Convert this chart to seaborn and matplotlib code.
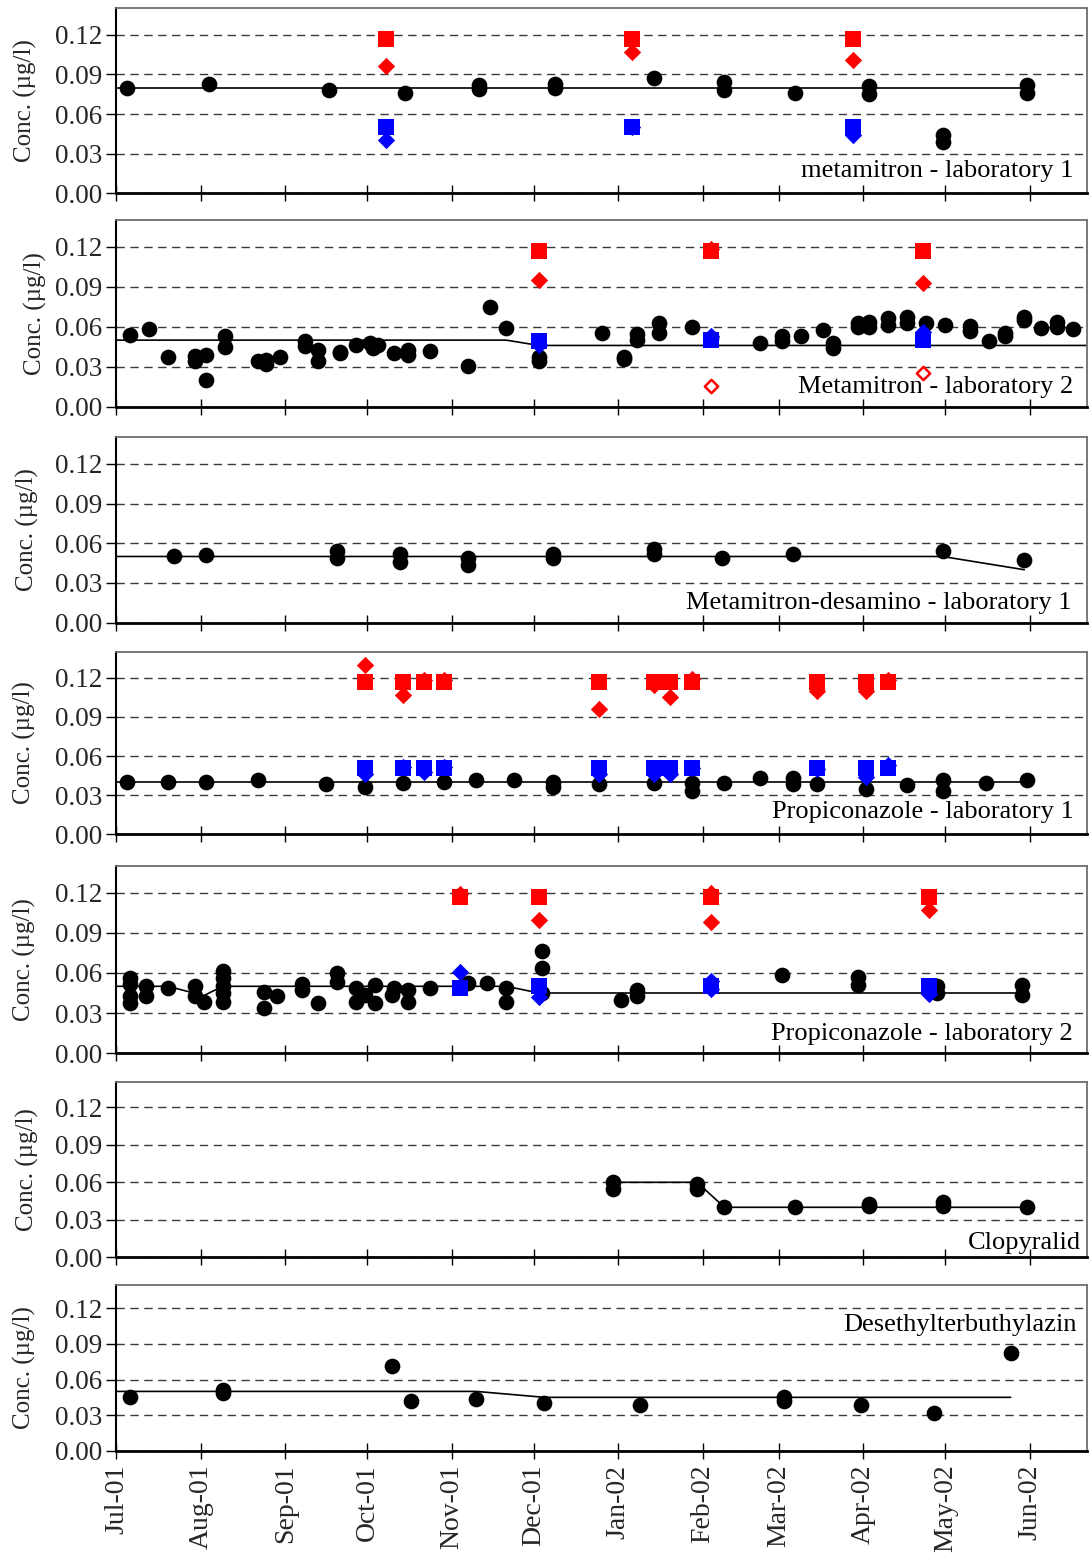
import numpy as np
import pandas as pd
import matplotlib
matplotlib.use("Agg")
import matplotlib.pyplot as plt
import matplotlib.dates as mdates
import matplotlib.transforms as mtransforms
from matplotlib.ticker import FormatStrFormatter
import seaborn as sns

# ---------------- data ----------------
# Panel 1: metamitron - laboratory 1
p1_black_dates = ['2001-07-05', '2001-08-04', '2001-09-17', '2001-10-15', '2001-11-11', '2001-11-11',
                  '2001-12-09', '2001-12-09', '2002-01-14', '2002-02-09', '2002-02-09', '2002-03-07',
                  '2002-04-03', '2002-04-03', '2002-04-30', '2002-04-30', '2002-05-31', '2002-05-31']
p1_black_vals = [0.080, 0.083, 0.078, 0.076, 0.082, 0.079, 0.083, 0.080, 0.087, 0.084, 0.078, 0.076,
                 0.081, 0.075, 0.044, 0.039, 0.082, 0.076]
p1_line_dates = ['2001-07-01', '2002-05-31']
p1_line_vals = [0.08, 0.08]
p1_sq_dates = ['2001-10-08', '2002-01-06', '2002-03-28']
p1_red_sq = [0.117, 0.117, 0.117]
p1_blue_sq = [0.050, 0.050, 0.050]
p1_dia_dates = ['2001-10-08', '2002-01-06', '2002-03-28']
p1_red_dia = [0.096, 0.107, 0.101]
p1_blue_dia = [0.040, 0.050, 0.044]
p1_open_dates = []
p1_open_vals = []

# Panel 2: Metamitron - laboratory 2
p2_black_dates = ['2001-07-06', '2001-07-13', '2001-07-20', '2001-07-30', '2001-07-30', '2001-08-03',
                  '2001-08-03', '2001-08-10', '2001-08-10', '2001-08-22', '2001-08-25', '2001-08-25',
                  '2001-08-30', '2001-09-08', '2001-09-08', '2001-09-13', '2001-09-13', '2001-09-21',
                  '2001-09-21', '2001-09-27', '2001-10-02', '2001-10-03', '2001-10-05', '2001-10-11',
                  '2001-10-16', '2001-10-16', '2001-10-24', '2001-11-07', '2001-11-15', '2001-11-21',
                  '2001-12-03', '2001-12-03', '2001-12-26', '2002-01-03', '2002-01-03', '2002-01-08',
                  '2002-01-08', '2002-01-16', '2002-01-16', '2002-01-28', '2002-02-04', '2002-02-22',
                  '2002-03-02', '2002-03-02', '2002-03-09', '2002-03-17', '2002-03-21', '2002-03-21',
                  '2002-03-30', '2002-03-30', '2002-04-03', '2002-04-03', '2002-04-10', '2002-04-10',
                  '2002-04-17', '2002-04-17', '2002-04-24', '2002-05-01', '2002-05-10', '2002-05-10',
                  '2002-05-17', '2002-05-23', '2002-05-23', '2002-05-30', '2002-05-30', '2002-06-05',
                  '2002-06-11', '2002-06-11', '2002-06-17']
p2_black_vals = [0.054, 0.058, 0.0375, 0.038, 0.034, 0.039,
                 0.020, 0.053, 0.045, 0.034, 0.035, 0.032,
                 0.037, 0.049, 0.0455, 0.0425, 0.034, 0.041,
                 0.040, 0.046, 0.048, 0.044, 0.046, 0.0405,
                 0.0425, 0.039, 0.042, 0.0305, 0.075, 0.059,
                 0.0375, 0.034, 0.055, 0.0375, 0.036, 0.0545,
                 0.050, 0.0625, 0.0555, 0.0595, 0.0515, 0.0475,
                 0.053, 0.0495, 0.053, 0.0575, 0.048, 0.0438,
                 0.0625, 0.060, 0.0638, 0.0595, 0.0663, 0.0613,
                 0.067, 0.0625, 0.063, 0.0613, 0.0605, 0.057,
                 0.0493, 0.0555, 0.053, 0.067, 0.065, 0.0588,
                 0.0638, 0.060, 0.058]
p2_line_dates = ['2001-07-01', '2001-11-21', '2001-12-03', '2002-06-22']
p2_line_vals = [0.05, 0.05, 0.046, 0.046]
p2_sq_dates = ['2001-12-03', '2002-02-04', '2002-04-23']
p2_red_sq = [0.117, 0.117, 0.117]
p2_blue_sq = [0.049, 0.050, 0.050]
p2_dia_dates = ['2001-12-03', '2002-02-04', '2002-04-23']
p2_red_dia = [0.0955, 0.1185, 0.093]
p2_blue_dia = [0.046, 0.0528, 0.056]
p2_open_dates = ['2002-02-04', '2002-04-23']
p2_open_vals = [0.0155, 0.0255]

# Panel 3: Metamitron-desamino - laboratory 1
p3_black_dates = ['2001-07-22', '2001-08-03', '2001-09-20', '2001-09-20', '2001-10-13', '2001-10-13',
                  '2001-11-07', '2001-11-07', '2001-12-08', '2001-12-08', '2002-01-14', '2002-01-14',
                  '2002-02-08', '2002-03-06', '2002-04-30', '2002-05-30']
p3_black_vals = [0.050, 0.051, 0.054, 0.0485, 0.052, 0.046,
                 0.0485, 0.0435, 0.052, 0.0485, 0.056, 0.052,
                 0.049, 0.052, 0.054, 0.047]
p3_line_dates = ['2001-07-01', '2002-04-30', '2002-05-30']
p3_line_vals = [0.05, 0.05, 0.04]

# Panel 4: Propiconazole - laboratory 1
p4_black_dates = ['2001-07-05', '2001-07-20', '2001-08-03', '2001-08-22', '2001-09-16', '2001-09-30',
                  '2001-10-14', '2001-10-29', '2001-11-10', '2001-11-24', '2001-12-08', '2001-12-08',
                  '2001-12-25', '2002-01-14', '2002-01-28', '2002-01-28', '2002-02-09', '2002-02-22',
                  '2002-03-06', '2002-03-06', '2002-03-15', '2002-04-02', '2002-04-17', '2002-04-30',
                  '2002-04-30', '2002-05-16', '2002-05-31']
p4_black_vals = [0.040, 0.040, 0.040, 0.0415, 0.0385, 0.036,
                 0.0395, 0.040, 0.0415, 0.0415, 0.040, 0.0365,
                 0.0385, 0.0395, 0.0395, 0.0335, 0.039, 0.043,
                 0.043, 0.0385, 0.0385, 0.0345, 0.038, 0.0415,
                 0.0335, 0.0395, 0.0415]
p4_line_dates = ['2001-07-01', '2002-05-31']
p4_line_vals = [0.04, 0.04]
p4_sq_dates = ['2001-09-30', '2001-10-14', '2001-10-22', '2001-10-29', '2001-12-25', '2002-01-14',
               '2002-01-20', '2002-01-28', '2002-03-15', '2002-04-02', '2002-04-10']
p4_red_sq = [0.117, 0.117, 0.117, 0.117, 0.117, 0.117, 0.117, 0.117, 0.117, 0.117, 0.117]
p4_blue_sq = [0.0505, 0.0505, 0.0505, 0.0505, 0.0505, 0.0505, 0.0505, 0.0505, 0.0505, 0.0505, 0.0505]
p4_dia_dates = p4_sq_dates
p4_red_dia = [0.1297, 0.1067, 0.1185, 0.1185, 0.0958, 0.1146, 0.1054, 0.119, 0.110, 0.110, 0.1185]
p4_blue_dia = [0.0464, 0.0515, 0.048, 0.0515, 0.0464, 0.0464, 0.0464, 0.051, 0.050, 0.0439, 0.0529]

# Panel 5: Propiconazole - laboratory 2
p5_black_dates = ['2001-07-06', '2001-07-06', '2001-07-06', '2001-07-06', '2001-07-12', '2001-07-12',
                  '2001-07-20', '2001-07-30', '2001-07-30', '2001-08-02', '2001-08-09', '2001-08-09',
                  '2001-08-09', '2001-08-09', '2001-08-09', '2001-08-24', '2001-08-24', '2001-08-29',
                  '2001-09-07', '2001-09-07', '2001-09-13', '2001-09-20', '2001-09-20', '2001-09-27',
                  '2001-09-27', '2001-09-30', '2001-10-04', '2001-10-04', '2001-10-10', '2001-10-11',
                  '2001-10-16', '2001-10-16', '2001-10-24', '2001-11-07', '2001-11-14', '2001-11-21',
                  '2001-11-21', '2001-12-04', '2001-12-04', '2001-12-04', '2002-01-02', '2002-01-08',
                  '2002-01-08', '2002-03-02', '2002-03-30', '2002-03-30', '2002-04-28', '2002-04-28',
                  '2002-05-29', '2002-05-29']
p5_black_vals = [0.056, 0.052, 0.0425, 0.0375, 0.050, 0.0425,
                 0.0485, 0.050, 0.0425, 0.0385, 0.0615, 0.056,
                 0.050, 0.045, 0.038, 0.046, 0.0335, 0.0425,
                 0.052, 0.0475, 0.0375, 0.060, 0.0535, 0.0485,
                 0.0385, 0.0435, 0.051, 0.0375, 0.0435, 0.049,
                 0.0475, 0.0385, 0.0485, 0.0525, 0.0525, 0.0485,
                 0.038, 0.076, 0.0635, 0.045, 0.040, 0.047,
                 0.0425, 0.0585, 0.057, 0.051, 0.050, 0.045,
                 0.051, 0.0435]
p5_line_dates = ['2001-07-01', '2001-07-20', '2001-08-02', '2001-08-09', '2001-11-21', '2001-12-03', '2002-05-29']
p5_line_vals = [0.05, 0.05, 0.043, 0.05, 0.05, 0.045, 0.045]
p5_sq_dates = ['2001-11-04', '2001-12-03', '2002-02-04', '2002-04-25']
p5_red_sq = [0.117, 0.117, 0.117, 0.117]
p5_blue_sq = [0.049, 0.050, 0.050, 0.050]
p5_dia_dates = ['2001-11-04', '2001-12-03', '2002-02-04', '2002-02-04', '2002-04-25']
p5_red_dia = [0.119, 0.0996, 0.120, 0.098, 0.107]
p5_blue_dia = [0.061, 0.042, 0.054, 0.048, 0.044]

# Panel 6: Clopyralid
p6_black_dates = ['2001-12-30', '2001-12-30', '2002-01-30', '2002-01-30', '2002-02-09', '2002-03-07',
                  '2002-04-03', '2002-04-03', '2002-04-30', '2002-04-30', '2002-05-31']
p6_black_vals = [0.060, 0.055, 0.059, 0.055, 0.0405, 0.0405, 0.043, 0.041, 0.044, 0.041, 0.0405]
p6_line_dates = ['2001-12-30', '2002-01-30', '2002-02-09', '2002-05-31']
p6_line_vals = [0.06, 0.06, 0.04, 0.04]

# Panel 7: Desethylterbuthylazin
p7_black_dates = ['2001-07-06', '2001-08-09', '2001-08-09', '2001-10-10', '2001-10-17', '2001-11-10',
                  '2001-12-05', '2002-01-09', '2002-03-03', '2002-03-03', '2002-03-31', '2002-04-27',
                  '2002-05-25']
p7_black_vals = [0.045, 0.0515, 0.0485, 0.0715, 0.042, 0.0435,
                 0.040, 0.0385, 0.0455, 0.042, 0.0385, 0.032,
                 0.082]
p7_line_dates = ['2001-07-01', '2001-11-10', '2001-12-05', '2002-05-25']
p7_line_vals = [0.05, 0.05, 0.045, 0.045]

panel_titles = ['metamitron - laboratory 1', 'Metamitron - laboratory 2',
                'Metamitron-desamino - laboratory 1', 'Propiconazole - laboratory 1',
                'Propiconazole - laboratory 2', 'Clopyralid', 'Desethylterbuthylazin']
y_ticks = [0.00, 0.03, 0.06, 0.09, 0.12]
y_label = 'Conc. (µg/l)'

# ---------------- style ----------------
sns.set_theme(style="ticks")
plt.rcParams["font.family"] = ["Liberation Serif", "DejaVu Serif"]

FIG_W, FIG_H = 1089, 1553
fig = plt.figure(figsize=(FIG_W / 100, FIG_H / 100), dpi=100)

AX_L, AX_R = 116.4, 1087.0
panel_px = [(8.3, 193.3), (220.3, 406.7), (437.3, 622.7), (651.7, 834.3),
            (865.7, 1053.3), (1082.3, 1257.3), (1284.7, 1450.7)]
title_pos = [(0.986, 0.0168), (0.986, 0.0150), (0.984, 0.0150), (0.986, 0.0170),
             (0.985, 0.0145), (0.994, 0.0115), (0.989, 0.1060)]
ylabel_x = [-0.082, -0.072, -0.080, -0.083, -0.083, -0.080, -0.083]

RED, BLUE = '#ff0000', '#0000ff'


def scat(ax, dates, vals, marker, s, color, edge=None, lw=0.0, z=3):
    if len(dates) == 0:
        return
    df = pd.DataFrame({'date': pd.to_datetime(dates), 'conc': vals})
    sns.scatterplot(data=df, x='date', y='conc', ax=ax, marker=marker, s=s,
                    color=color, edgecolor=edge if edge is not None else color,
                    linewidth=lw, zorder=z, legend=False)


def line(ax, dates, vals):
    df = pd.DataFrame({'date': pd.to_datetime(dates), 'conc': vals})
    sns.lineplot(data=df, x='date', y='conc', ax=ax, color='black', linewidth=1.2,
                 estimator=None, sort=False, zorder=2, legend=False)


panels = [
    dict(bd=p1_black_dates, bv=p1_black_vals, ld=p1_line_dates, lv=p1_line_vals,
         sqd=p1_sq_dates, rsq=p1_red_sq, bsq=p1_blue_sq, dd=p1_dia_dates, rd=p1_red_dia, bdi=p1_blue_dia,
         od=p1_open_dates, ov=p1_open_vals),
    dict(bd=p2_black_dates, bv=p2_black_vals, ld=p2_line_dates, lv=p2_line_vals,
         sqd=p2_sq_dates, rsq=p2_red_sq, bsq=p2_blue_sq, dd=p2_dia_dates, rd=p2_red_dia, bdi=p2_blue_dia,
         od=p2_open_dates, ov=p2_open_vals),
    dict(bd=p3_black_dates, bv=p3_black_vals, ld=p3_line_dates, lv=p3_line_vals),
    dict(bd=p4_black_dates, bv=p4_black_vals, ld=p4_line_dates, lv=p4_line_vals,
         sqd=p4_sq_dates, rsq=p4_red_sq, bsq=p4_blue_sq, dd=p4_dia_dates, rd=p4_red_dia, bdi=p4_blue_dia),
    dict(bd=p5_black_dates, bv=p5_black_vals, ld=p5_line_dates, lv=p5_line_vals,
         sqd=p5_sq_dates, rsq=p5_red_sq, bsq=p5_blue_sq, dd=p5_dia_dates, rd=p5_red_dia, bdi=p5_blue_dia),
    dict(bd=p6_black_dates, bv=p6_black_vals, ld=p6_line_dates, lv=p6_line_vals),
    dict(bd=p7_black_dates, bv=p7_black_vals, ld=p7_line_dates, lv=p7_line_vals),
]

x0, x1 = pd.Timestamp('2001-07-01'), pd.Timestamp('2002-06-22')

for i, (p, (top, bot)) in enumerate(zip(panels, panel_px)):
    ax = fig.add_axes([AX_L / FIG_W, 1 - bot / FIG_H, (AX_R - AX_L) / FIG_W, (bot - top) / FIG_H])
    ax.set_facecolor('white')
    line(ax, p['ld'], p['lv'])
    scat(ax, p['bd'], p['bv'], 'o', 128, 'black', z=3)
    if 'dd' in p:
        scat(ax, p['dd'], p['bdi'], 'D', 78, BLUE, z=4)
        scat(ax, p['sqd'], p['bsq'], 's', 118, BLUE, z=5)
        scat(ax, p['dd'], p['rd'], 'D', 78, RED, z=4)
        scat(ax, p['sqd'], p['rsq'], 's', 118, RED, z=5)
    if p.get('od'):
        scat(ax, p['od'], p['ov'], 'D', 46, 'white', edge=RED, lw=1.8, z=4)

    ax.set_xlim(x0, x1)
    ax.set_ylim(0, 0.14)
    ax.set_yticks(y_ticks)
    ax.yaxis.set_major_formatter(FormatStrFormatter('%.2f'))
    ax.xaxis.set_major_locator(mdates.MonthLocator())
    ax.xaxis.set_major_formatter(mdates.DateFormatter('%b-%y'))

    ax.yaxis.grid(True, linestyle=(0, (6, 4)), color='#3a3a3a', linewidth=1.0)
    ax.xaxis.grid(False)
    ax.set_axisbelow(True)

    for side in ('top', 'right'):
        ax.spines[side].set_color('#6e6e6e')
        ax.spines[side].set_linewidth(1.3)
    ax.spines['left'].set_color('black')
    ax.spines['left'].set_linewidth(1.5)
    ax.spines['bottom'].set_color('black')
    ax.spines['bottom'].set_linewidth(2.0)

    ax.tick_params(axis='y', direction='out', length=7, width=1.0, color='black',
                   labelsize=19.5, pad=3, left=True)
    last = (i == len(panels) - 1)
    ax.tick_params(axis='x', direction='inout', length=12, width=1.0, color='black',
                   labelsize=20, pad=4, bottom=True, labelbottom=last)
    if last:
        for lab in ax.get_xticklabels():
            lab.set_rotation(90)
            lab.set_va('top')
            lab.set_ha('center')

    ax.set_xlabel('')
    ax.set_ylabel(y_label, fontsize=18, labelpad=0)
    ax.yaxis.set_label_coords(ylabel_x[i], 0.5)

    tx, ty = title_pos[i]
    trans = mtransforms.blended_transform_factory(ax.transAxes, ax.transData)
    ax.text(tx, ty, panel_titles[i], transform=trans, ha='right', va='center',
            fontsize=19, color='black', zorder=6)

fig.savefig('out.png', dpi=100, facecolor='white')
